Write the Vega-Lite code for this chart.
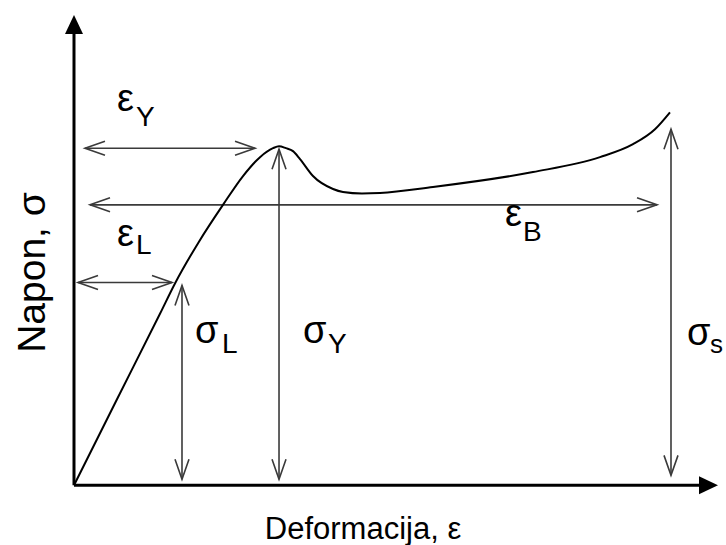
{
  "$schema": "https://vega.github.io/schema/vega-lite/v6.json",
  "width": 726,
  "height": 545,
  "autosize": {"type": "fit", "contains": "padding"},
  "padding": 0,
  "background": "white",
  "config": {"view": {"stroke": null}},
  "datasets": {
    "curve": [
      {"strain": 0, "stress": 0},
      {"strain": 7, "stress": 16.9},
      {"strain": 14.33, "stress": 34.5},
      {"strain": 16.83, "stress": 40.6},
      {"strain": 20.83, "stress": 49.0},
      {"strain": 24.83, "stress": 56.4},
      {"strain": 28.17, "stress": 62.2},
      {"strain": 31, "stress": 66},
      {"strain": 33.17, "stress": 67.8},
      {"strain": 34.17, "stress": 68.2},
      {"strain": 35.33, "stress": 67.8},
      {"strain": 36.5, "stress": 67.2},
      {"strain": 37.67, "stress": 65.6},
      {"strain": 39.83, "stress": 62.2},
      {"strain": 43.17, "stress": 59.6},
      {"strain": 44.83, "stress": 59},
      {"strain": 48, "stress": 58.7},
      {"strain": 51, "stress": 58.8},
      {"strain": 59.83, "stress": 60},
      {"strain": 76.5, "stress": 63},
      {"strain": 87.67, "stress": 66},
      {"strain": 93.17, "stress": 68.6},
      {"strain": 96.83, "stress": 71.6},
      {"strain": 99.33, "stress": 75}
    ],
    "axes": [
      {"name": "yaxis", "x": 0, "y": 0, "x2": 0, "y2": 91},
      {"name": "xaxis", "x": 0, "y": 0, "x2": 104.33, "y2": 0}
    ],
    "spans": [
      {"name": "eY", "x": 1.83, "y": 67.8, "x2": 30.17, "y2": 67.8},
      {"name": "eB", "x": 2.67, "y": 56.4, "x2": 97.17, "y2": 56.4},
      {"name": "eL", "x": 0.67, "y": 40.8, "x2": 16.33, "y2": 40.8},
      {"name": "sL", "x": 18, "y": 40.2, "x2": 18, "y2": 1.2},
      {"name": "sY", "x": 34.17, "y": 67.6, "x2": 34.17, "y2": 1.2},
      {"name": "sS", "x": 99.5, "y": 71.6, "x2": 99.5, "y2": 2}
    ],
    "heads": [
      {"x": 1.83, "y": 67.8, "dir": "left"},
      {"x": 30.17, "y": 67.8, "dir": "right"},
      {"x": 2.67, "y": 56.4, "dir": "left"},
      {"x": 97.17, "y": 56.4, "dir": "right"},
      {"x": 0.67, "y": 40.8, "dir": "left"},
      {"x": 16.33, "y": 40.8, "dir": "right"},
      {"x": 18, "y": 40.2, "dir": "up"},
      {"x": 18, "y": 1.2, "dir": "down"},
      {"x": 34.17, "y": 67.6, "dir": "up"},
      {"x": 34.17, "y": 1.2, "dir": "down"},
      {"x": 99.5, "y": 71.6, "dir": "up"},
      {"x": 99.5, "y": 2, "dir": "down"}
    ],
    "axisheads": [
      {"x": 0, "y": 94.6, "dir": "up"},
      {"x": 107.33, "y": 0, "dir": "right"}
    ],
    "labels": [
      {"x": 7.17, "y": 75.2, "text": "ε", "role": "main"},
      {"x": 10.33, "y": 72.2, "text": "Y", "role": "sub"},
      {"x": 7.17, "y": 48.2, "text": "ε", "role": "main"},
      {"x": 10.33, "y": 46.6, "text": "L", "role": "sub"},
      {"x": 71.83, "y": 52.2, "text": "ε", "role": "main"},
      {"x": 74.83, "y": 49.2, "text": "B", "role": "sub"},
      {"x": 20.17, "y": 28.6, "text": "σ", "role": "main"},
      {"x": 24.67, "y": 26.6, "text": "L", "role": "sub"},
      {"x": 38.17, "y": 28.6, "text": "σ", "role": "main"},
      {"x": 42.33, "y": 26.6, "text": "Y", "role": "sub"},
      {"x": 102.17, "y": 28.2, "text": "σ", "role": "main"},
      {"x": 106, "y": 26.6, "text": "s", "role": "subs"}
    ],
    "titles": [
      {"x": 48.17, "y": -10.8, "text": "Deformacija, ε", "role": "xtitle"},
      {"x": -4.83, "y": 42.8, "text": "Napon, σ", "role": "ytitle"}
    ]
  },
  "layer": [
    {
      "data": {"name": "axes"},
      "mark": {"type": "rule", "color": "black", "strokeWidth": 3},
      "encoding": {
        "x": {"field": "x", "type": "quantitative", "axis": null, "scale": {"domain": [-12.333, 108.667], "nice": false, "zero": false}},
        "y": {"field": "y", "type": "quantitative", "axis": null, "scale": {"domain": [-11.4, 97.6], "nice": false, "zero": false}},
        "x2": {"field": "x2"},
        "y2": {"field": "y2"}
      }
    },
    {
      "data": {"name": "spans"},
      "mark": {"type": "rule", "color": "#3a3a3a", "strokeWidth": 1.6},
      "encoding": {
        "x": {"field": "x", "type": "quantitative"},
        "y": {"field": "y", "type": "quantitative"},
        "x2": {"field": "x2"},
        "y2": {"field": "y2"}
      }
    },
    {
      "data": {"name": "curve"},
      "mark": {"type": "line", "color": "black", "strokeWidth": 2, "interpolate": "monotone"},
      "encoding": {
        "x": {"field": "strain", "type": "quantitative"},
        "y": {"field": "stress", "type": "quantitative"}
      }
    },
    {
      "data": {"name": "heads"},
      "transform": [{"filter": "datum.dir === 'right'"}],
      "mark": {"type": "point", "shape": "M -2 -0.7 L 0 0 L -2 0.7", "size": 400, "filled": false, "stroke": "#3a3a3a", "strokeWidth": 1.6, "opacity": 1, "angle": 0},
      "encoding": {"x": {"field": "x", "type": "quantitative"}, "y": {"field": "y", "type": "quantitative"}}
    },
    {
      "data": {"name": "heads"},
      "transform": [{"filter": "datum.dir === 'left'"}],
      "mark": {"type": "point", "shape": "M -2 -0.7 L 0 0 L -2 0.7", "size": 400, "filled": false, "stroke": "#3a3a3a", "strokeWidth": 1.6, "opacity": 1, "angle": 180},
      "encoding": {"x": {"field": "x", "type": "quantitative"}, "y": {"field": "y", "type": "quantitative"}}
    },
    {
      "data": {"name": "heads"},
      "transform": [{"filter": "datum.dir === 'up'"}],
      "mark": {"type": "point", "shape": "M -2 -0.7 L 0 0 L -2 0.7", "size": 400, "filled": false, "stroke": "#3a3a3a", "strokeWidth": 1.6, "opacity": 1, "angle": 270},
      "encoding": {"x": {"field": "x", "type": "quantitative"}, "y": {"field": "y", "type": "quantitative"}}
    },
    {
      "data": {"name": "heads"},
      "transform": [{"filter": "datum.dir === 'down'"}],
      "mark": {"type": "point", "shape": "M -2 -0.7 L 0 0 L -2 0.7", "size": 400, "filled": false, "stroke": "#3a3a3a", "strokeWidth": 1.6, "opacity": 1, "angle": 90},
      "encoding": {"x": {"field": "x", "type": "quantitative"}, "y": {"field": "y", "type": "quantitative"}}
    },
    {
      "data": {"name": "axisheads"},
      "transform": [{"filter": "datum.dir === 'up'"}],
      "mark": {"type": "point", "shape": "M -1.9 -0.9 L 0 0 L -1.9 0.9 Z", "size": 400, "filled": true, "color": "black", "opacity": 1, "angle": 270},
      "encoding": {"x": {"field": "x", "type": "quantitative"}, "y": {"field": "y", "type": "quantitative"}}
    },
    {
      "data": {"name": "axisheads"},
      "transform": [{"filter": "datum.dir === 'right'"}],
      "mark": {"type": "point", "shape": "M -1.9 -0.9 L 0 0 L -1.9 0.9 Z", "size": 400, "filled": true, "color": "black", "opacity": 1, "angle": 0},
      "encoding": {"x": {"field": "x", "type": "quantitative"}, "y": {"field": "y", "type": "quantitative"}}
    },
    {
      "data": {"name": "labels"},
      "transform": [{"filter": "datum.role === 'main'"}],
      "mark": {"type": "text", "font": "Liberation Sans", "fontSize": 38, "align": "left", "baseline": "alphabetic", "color": "black"},
      "encoding": {"x": {"field": "x", "type": "quantitative"}, "y": {"field": "y", "type": "quantitative"}, "text": {"field": "text"}}
    },
    {
      "data": {"name": "labels"},
      "transform": [{"filter": "datum.role === 'sub'"}],
      "mark": {"type": "text", "font": "Liberation Sans", "fontSize": 28, "align": "left", "baseline": "alphabetic", "color": "black"},
      "encoding": {"x": {"field": "x", "type": "quantitative"}, "y": {"field": "y", "type": "quantitative"}, "text": {"field": "text"}}
    },
    {
      "data": {"name": "labels"},
      "transform": [{"filter": "datum.role === 'subs'"}],
      "mark": {"type": "text", "font": "Liberation Sans", "fontSize": 26, "align": "left", "baseline": "alphabetic", "color": "black"},
      "encoding": {"x": {"field": "x", "type": "quantitative"}, "y": {"field": "y", "type": "quantitative"}, "text": {"field": "text"}}
    },
    {
      "data": {"name": "titles"},
      "transform": [{"filter": "datum.role === 'xtitle'"}],
      "mark": {"type": "text", "font": "Liberation Sans", "fontSize": 31, "align": "center", "baseline": "alphabetic", "color": "black"},
      "encoding": {"x": {"field": "x", "type": "quantitative"}, "y": {"field": "y", "type": "quantitative"}, "text": {"field": "text"}}
    },
    {
      "data": {"name": "titles"},
      "transform": [{"filter": "datum.role === 'ytitle'"}],
      "mark": {"type": "text", "font": "Liberation Sans", "fontSize": 39, "align": "center", "baseline": "alphabetic", "angle": 270, "color": "black"},
      "encoding": {"x": {"field": "x", "type": "quantitative"}, "y": {"field": "y", "type": "quantitative"}, "text": {"field": "text"}}
    }
  ]
}
